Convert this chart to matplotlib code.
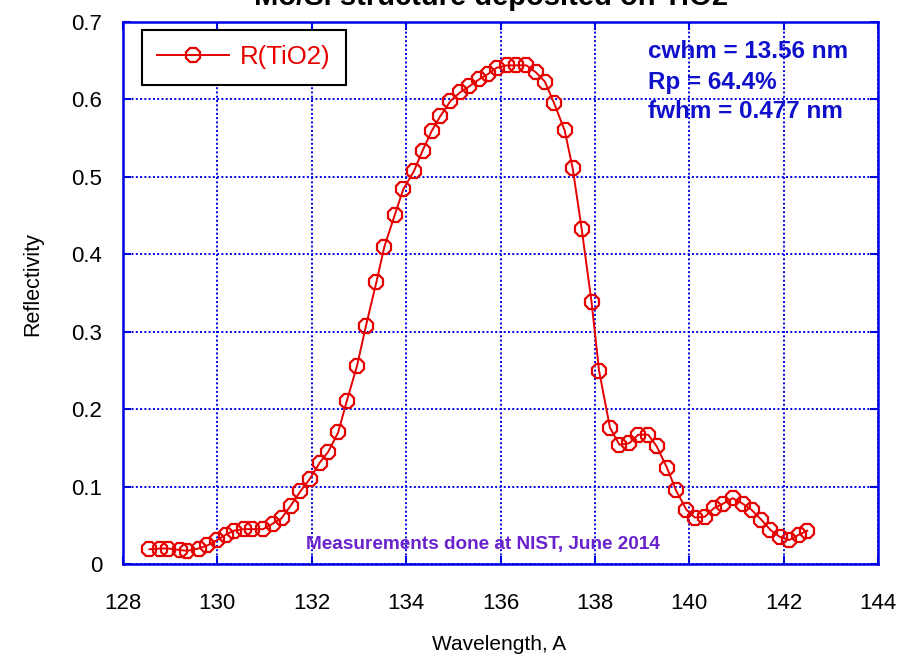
import matplotlib
matplotlib.use("Agg")
import matplotlib.pyplot as plt

plt.rcParams['font.family'] = ['Liberation Sans', 'DejaVu Sans']

# ---- data ----
wavelength = [128.56, 128.78, 128.96, 129.21, 129.36, 129.60, 129.79, 130.00, 130.18, 130.35,
              130.56, 130.73, 130.97, 131.17, 131.36, 131.55, 131.76, 131.96, 132.17, 132.35,
              132.56, 132.74, 132.96, 133.15, 133.37, 133.54, 133.76, 133.94, 134.17, 134.35,
              134.54, 134.72, 134.94, 135.14, 135.34, 135.55, 135.74, 135.92, 136.14, 136.33,
              136.55, 136.75, 136.94, 137.13, 137.36, 137.53, 137.72, 137.93, 138.09, 138.32,
              138.52, 138.73, 138.92, 139.13, 139.31, 139.53, 139.72, 139.94, 140.12, 140.33,
              140.52, 140.72, 140.92, 141.13, 141.32, 141.53, 141.72, 141.92, 142.12, 142.33,
              142.50]
reflectivity = [0.019, 0.020, 0.020, 0.018, 0.017, 0.020, 0.024, 0.031, 0.038, 0.043,
                0.045, 0.045, 0.045, 0.052, 0.059, 0.075, 0.094, 0.110, 0.131, 0.145,
                0.170, 0.210, 0.256, 0.308, 0.364, 0.410, 0.451, 0.484, 0.508, 0.534,
                0.559, 0.578, 0.598, 0.609, 0.617, 0.626, 0.633, 0.641, 0.644, 0.644,
                0.644, 0.635, 0.623, 0.596, 0.560, 0.511, 0.433, 0.338, 0.249, 0.176,
                0.154, 0.156, 0.167, 0.167, 0.152, 0.124, 0.095, 0.070, 0.060, 0.061,
                0.072, 0.078, 0.085, 0.078, 0.070, 0.057, 0.044, 0.035, 0.031, 0.038,
                0.043]
series_label = "R(TiO2)"
xticks = [128, 130, 132, 134, 136, 138, 140, 142, 144]
yticks = [0, 0.1, 0.2, 0.3, 0.4, 0.5, 0.6, 0.7]
ytick_labels = ["0", "0.1", "0.2", "0.3", "0.4", "0.5", "0.6", "0.7"]
stats_lines = ["cwhm = 13.56 nm", "Rp = 64.4%", "fwhm = 0.477 nm"]
title = "Mo/Si structure deposited on TiO2"
note = "Measurements done at NIST, June 2014"

W, H = 908, 658
fig = plt.figure(figsize=(W / 100, H / 100), dpi=100)
ax = fig.add_axes([123 / W, (H - 564) / H, 755 / W, 542 / H])

RED = '#e60000'
BLUE = '#0000e6'

ax.plot(wavelength, reflectivity, color=RED, lw=1.4, marker='8', ms=10.5,
        mfc='none', mec=RED, mew=1.6, label=series_label, zorder=3)

ax.set_xlim(128, 144)
ax.set_ylim(0, 0.7)
ax.set_xticks(xticks)
ax.set_xticklabels([str(t) for t in xticks])
ax.set_yticks(yticks)
ax.set_yticklabels(ytick_labels)

ax.grid(True, color=BLUE, linestyle=(0, (1, 1.2)), lw=1.4)
for s in ax.spines.values():
    s.set_color(BLUE)
    s.set_linewidth(1.8)
ax.tick_params(direction='in', length=6, width=1.5, color=BLUE,
               top=True, right=True, labelsize=16, labelcolor='black')
ax.tick_params(axis='x', pad=21)
ax.tick_params(axis='y', pad=15)

leg = ax.legend(loc='upper left', bbox_to_anchor=(142 / W, 1 - 30 / H),
                bbox_transform=fig.transFigure, borderaxespad=0,
                fontsize=18.5, handlelength=2.8, handletextpad=0.4,
                borderpad=0.6, fancybox=False, framealpha=1)
leg.get_frame().set_edgecolor('black')
leg.get_frame().set_linewidth(1.5)
for t in leg.get_texts():
    t.set_color(RED)

for i, line in enumerate(stats_lines):
    fig.text(648 / W, 1 - (52 + 30 * i) / H, line, color='#1010cc',
             fontsize=17.5, fontweight='bold', ha='left', va='center')

fig.text(306 / W, 1 - 544 / H, note, color='#6a22cc', fontsize=13.7,
         fontweight='bold', ha='left', va='center')

fig.text(491 / W, 1 - 5 / H, title, fontsize=21, fontweight='bold',
         ha='center', va='baseline')
fig.text(499 / W, 1 - 644 / H, "Wavelength, A", fontsize=15,
         ha='center', va='center')
fig.text(33 / W, 1 - 284 / H, "Reflectivity", fontsize=15.5, rotation=90,
         ha='center', va='center')

fig.savefig('out.png', dpi=100)
